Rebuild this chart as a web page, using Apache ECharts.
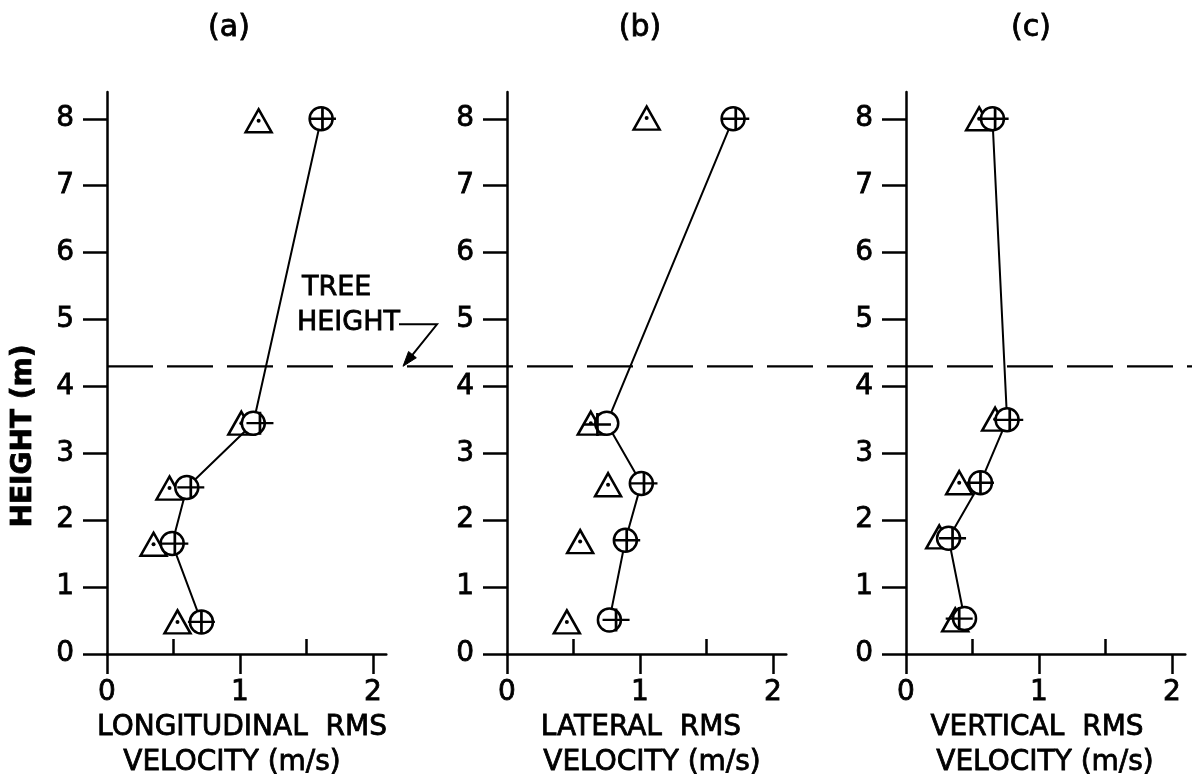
<!DOCTYPE html>
<html>
<head>
<meta charset="utf-8">
<script src="https://cdn.jsdelivr.net/npm/echarts@6/dist/echarts.min.js"></script>
<style>
  html, body { margin: 0; padding: 0; background: #fff; }
  #chart { width: 1192px; height: 779px; }
</style>
</head>
<body>
<div id="chart"></div>
<script>
// ---- data: [rms velocity (m/s), height (m)] ----
const PANEL_TITLES = ['(a)', '(b)', '(c)'];
const X_NAME_LINE1 = ['LONGITUDINAL  RMS', 'LATERAL  RMS', 'VERTICAL  RMS'];
const X_NAME_LINE2 = ['VELOCITY (m/s)', 'VELOCITY (m/s)', 'VELOCITY (m/s)'];
const HEIGHT_TICKS = [0, 1, 2, 3, 4, 5, 6, 7, 8];
const VEL_MAJOR_TICKS = [0, 1, 2];
const VEL_MINOR_TICKS = [0.5, 1.5];
const TREE_HEIGHT = 4.3;

const longCircle   = [[1.61, 8.00], [1.10, 3.45], [0.60, 2.49], [0.49, 1.65], [0.71, 0.48]];
const longPlus     = [[1.62, 8.00], [1.15, 3.45], [0.63, 2.49], [0.51, 1.65], [0.71, 0.48]];
const longTriangle = [[1.14, 7.97], [1.01, 3.45], [0.47, 2.48], [0.35, 1.64], [0.53, 0.48]];

const latCircle    = [[1.70, 8.00], [0.75, 3.45], [1.01, 2.55], [0.89, 1.70], [0.77, 0.51]];
const latPlus      = [[1.72, 8.00], [0.68, 3.43], [1.03, 2.55], [0.90, 1.70], [0.82, 0.51]];
const latTriangle  = [[1.05, 8.01], [0.63, 3.45], [0.76, 2.53], [0.55, 1.68], [0.45, 0.48]];

const vertCircle   = [[0.65, 8.00], [0.76, 3.50], [0.56, 2.56], [0.32, 1.73], [0.44, 0.53]];
const vertPlus     = [[0.67, 8.00], [0.78, 3.50], [0.56, 2.56], [0.35, 1.73], [0.40, 0.53]];
const vertTriangle = [[0.55, 8.00], [0.67, 3.51], [0.40, 2.56], [0.25, 1.75], [0.37, 0.51]];

const CIRCLES   = [longCircle, latCircle, vertCircle];
const PLUSES    = [longPlus, latPlus, vertPlus];
const TRIANGLES = [longTriangle, latTriangle, vertTriangle];

// ---- layout ----
const FONT = 'DejaVu Sans';
const INK = '#000';
const GRID_LEFTS = [107, 507, 906];
const GRID_TOP = 92;
const GRID_HEIGHT = 562;
const GRID_WIDTH = 279.3;
const X_MAX = 2.1;
const Y_MAX = 8.4;

// slightly heavier strokes for lettering
const INKED = { textBorderColor: INK, textBorderWidth: 0.8 };

const chart = echarts.init(document.getElementById('chart'), null, { renderer: 'canvas' });

const grids = [], xAxes = [], yAxes = [], series = [];
GRID_LEFTS.forEach((left, i) => {
  grids.push({ left: left, top: GRID_TOP, width: GRID_WIDTH, height: GRID_HEIGHT, containLabel: false });

  // main velocity axis: line, long ticks and labels at whole numbers
  xAxes.push({
    type: 'value', gridIndex: i, min: 0, max: X_MAX,
    axisLine: { show: true, onZero: false, lineStyle: { color: INK, width: 2.5 } },
    axisTick: { show: true, customValues: VEL_MAJOR_TICKS, length: 20, lineStyle: { color: INK, width: 2.5 } },
    axisLabel: Object.assign({ show: true, customValues: VEL_MAJOR_TICKS, margin: 25, color: INK, fontSize: 28, fontFamily: FONT }, INKED),
    splitLine: { show: false }
  });
  // half-unit ticks
  xAxes.push({
    type: 'value', gridIndex: i, min: 0, max: X_MAX,
    axisLine: { show: false },
    axisTick: { show: true, customValues: VEL_MINOR_TICKS, length: 15, lineStyle: { color: INK, width: 2.5 } },
    axisLabel: { show: false },
    splitLine: { show: false }
  });
  yAxes.push({
    type: 'value', gridIndex: i, min: 0, max: Y_MAX,
    axisLine: { show: true, onZero: false, lineStyle: { color: INK, width: 2.5 } },
    axisTick: { show: true, customValues: HEIGHT_TICKS, length: 24, lineStyle: { color: INK, width: 2.5 } },
    axisLabel: Object.assign({ show: true, customValues: HEIGHT_TICKS, margin: 33, color: INK, fontSize: 28, fontFamily: FONT }, INKED),
    splitLine: { show: false }
  });

  const xi = 2 * i;
  series.push({
    type: 'scatter', xAxisIndex: xi, yAxisIndex: i, z: 2,
    symbol: 'triangle', symbolSize: [26, 23],
    itemStyle: { color: 'rgba(0,0,0,0)', borderColor: INK, borderWidth: 2.5, opacity: 1 },
    emphasis: { disabled: true },
    data: TRIANGLES[i]
  });
  series.push({
    type: 'scatter', xAxisIndex: xi, yAxisIndex: i, z: 2,
    symbol: 'circle', symbolSize: 4,
    itemStyle: { color: INK, opacity: 1 },
    emphasis: { disabled: true },
    data: TRIANGLES[i]
  });
  series.push({
    type: 'line', xAxisIndex: xi, yAxisIndex: i, z: 3,
    symbol: 'circle', symbolSize: 23, showAllSymbol: true,
    lineStyle: { color: INK, width: 2 },
    itemStyle: { color: '#fff', borderColor: INK, borderWidth: 2.5, opacity: 1 },
    emphasis: { disabled: true },
    data: CIRCLES[i]
  });
  series.push({
    type: 'scatter', xAxisIndex: xi, yAxisIndex: i, z: 4,
    symbol: 'path://M0,10 L20,10 M10,0 L10,20', symbolSize: [27, 23],
    itemStyle: { color: 'rgba(0,0,0,0)', borderColor: INK, borderWidth: 2.5, opacity: 1 },
    emphasis: { disabled: true },
    data: PLUSES[i]
  });
});

chart.setOption({
  animation: false,
  backgroundColor: '#fff',
  grid: grids,
  xAxis: xAxes,
  yAxis: yAxes,
  series: series
});

// ---- text and the tree-height reference line ----
const treeY = chart.convertToPixel({ yAxisIndex: 0 }, TREE_HEIGHT);
const lineStartX = chart.convertToPixel({ xAxisIndex: 0 }, 0);

const TITLE_X = [229, 640, 1031];
const NAME1_X = [242, 641, 1037];
const NAME2_X = [232, 652, 1045];

function label(text, x, y, font, extra) {
  return Object.assign({ type: 'text', x: x, y: y,
    style: Object.assign({ text: text, font: font, fill: INK, textAlign: 'center', textVerticalAlign: 'middle',
      stroke: INK, lineWidth: 0.8 }, extra || {}) });
}

const graphics = [];
PANEL_TITLES.forEach((t, i) => {
  graphics.push(label(t, TITLE_X[i], 28, '30px "' + FONT + '"'));
  graphics.push(label(X_NAME_LINE1[i], NAME1_X[i], 728, '28px "' + FONT + '"'));
  graphics.push(label(X_NAME_LINE2[i], NAME2_X[i], 763, '28px "' + FONT + '"'));
});

const yName = label('HEIGHT (m)', 24, 436, 'bold 28px "' + FONT + '"');
yName.rotation = Math.PI / 2;
graphics.push(yName);

// dashed tree-height line across all three panels
graphics.push({ type: 'line', z: 1,
  shape: { x1: lineStartX, y1: treeY, x2: 1192, y2: treeY },
  style: { stroke: INK, lineWidth: 2.2, lineDash: [46, 14] } });

// "TREE HEIGHT" label with leader arrow
graphics.push(label('TREE', 302, treeY - 78, '27px "' + FONT + '"', { textAlign: 'left' }));
graphics.push(label('HEIGHT', 297, treeY - 43, '27px "' + FONT + '"', { textAlign: 'left' }));
const tip = [403, treeY];
const elbow = [437, treeY - 42];
graphics.push({ type: 'polyline',
  shape: { points: [[399, treeY - 42], elbow, [tip[0] + 5, tip[1] - 6]] },
  style: { stroke: INK, lineWidth: 2, fill: null } });
(function () {
  const dx = tip[0] - elbow[0], dy = tip[1] - elbow[1];
  const len = Math.sqrt(dx * dx + dy * dy);
  const ux = dx / len, uy = dy / len;
  const bx = tip[0] - 15 * ux, by = tip[1] - 15 * uy;
  const px = -uy, py = ux;
  graphics.push({ type: 'polygon',
    shape: { points: [tip, [bx + 5 * px, by + 5 * py], [bx - 5 * px, by - 5 * py]] },
    style: { fill: INK, stroke: INK, lineWidth: 1 } });
})();

chart.setOption({ graphic: graphics });
</script>
</body>
</html>
